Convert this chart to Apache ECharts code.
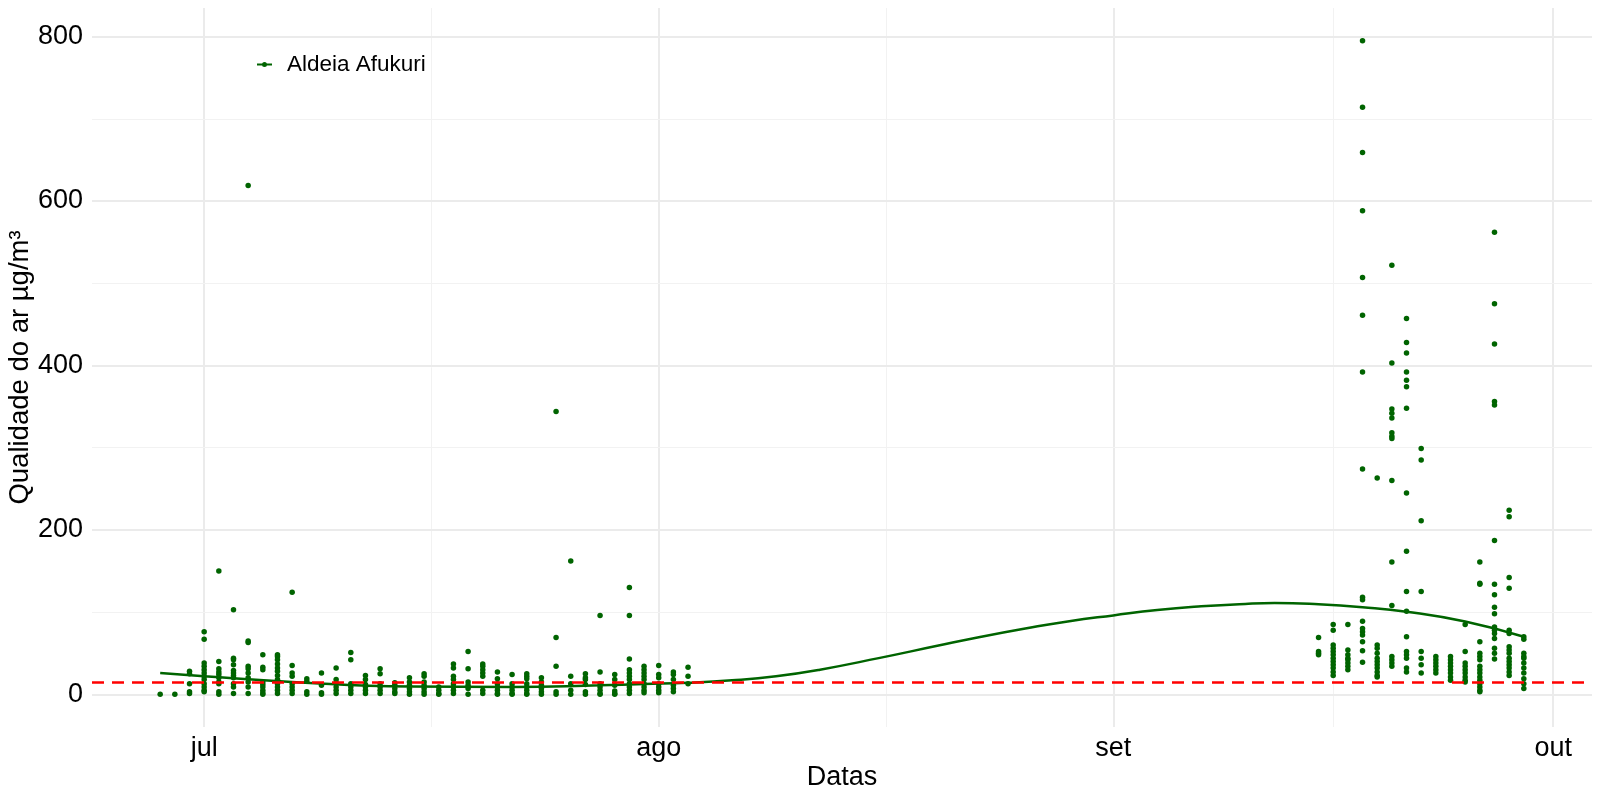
<!DOCTYPE html>
<html><head><meta charset="utf-8">
<script src="https://cdn.jsdelivr.net/npm/echarts@6/dist/echarts.min.js"></script>
<style>html,body{margin:0;padding:0;background:#fff}#c{width:1600px;height:800px}</style>
</head><body><div id="c"></div>
<script>
// ---- data ----
const seriesName = 'Aldeia Afukuri';
const dayDates = [
  '2024-06-28','2024-06-29','2024-06-30','2024-07-01','2024-07-02','2024-07-03','2024-07-04','2024-07-05',
  '2024-07-06','2024-07-07','2024-07-08','2024-07-09','2024-07-10','2024-07-11','2024-07-12','2024-07-13',
  '2024-07-14','2024-07-15','2024-07-16','2024-07-17','2024-07-18','2024-07-19','2024-07-20','2024-07-21',
  '2024-07-22','2024-07-23','2024-07-24','2024-07-25','2024-07-26','2024-07-27','2024-07-28','2024-07-29',
  '2024-07-30','2024-07-31','2024-08-01','2024-08-02','2024-08-03',
  '2024-09-15','2024-09-16','2024-09-17','2024-09-18','2024-09-19','2024-09-20','2024-09-21','2024-09-22',
  '2024-09-23','2024-09-24','2024-09-25','2024-09-26','2024-09-27','2024-09-28','2024-09-29'
];
const dayReadings = [
  [0],
  [0],
  [28, 25, 13, 3, 1],
  [76, 67, 38, 34, 30, 26, 22, 18, 13, 9, 5, 3],
  [150, 40, 31, 27, 24, 20, 15, 13, 3, 0],
  [103, 44, 42, 36, 29, 26, 23, 20, 13, 9, 1],
  [619, 65, 63, 34, 31, 26, 20, 15, 9, 1],
  [48, 33, 30, 15, 12, 9, 5, 2, 0],
  [48, 46, 42, 37, 32, 28, 23, 18, 13, 9, 5, 1],
  [124, 35, 26, 22, 13, 9, 5, 1],
  [19, 16, 3, 0],
  [26, 11, 2, 0],
  [32, 18, 14, 9, 5, 1],
  [51, 42, 13, 9, 5, 1],
  [23, 18, 12, 9, 5, 1],
  [31, 25, 13, 9, 5, 1],
  [14, 11, 7, 3, 1],
  [20, 15, 11, 7, 3, 0],
  [25, 22, 15, 11, 7, 3, 0],
  [9, 5, 1, 0],
  [37, 32, 22, 18, 13, 9, 5, 1],
  [52, 31, 15, 11, 7, 0],
  [37, 34, 30, 26, 22, 5, 1],
  [27, 19, 13, 9, 5, 1, 0],
  [24, 13, 9, 5, 1, 0],
  [25, 22, 19, 13, 9, 5, 1, 0],
  [20, 15, 11, 7, 3, 0],
  [344, 69, 34, 3, 0],
  [162, 22, 13, 5, 0],
  [25, 20, 18, 12, 3, 0],
  [96, 27, 13, 9, 5, 1, 0],
  [24, 18, 11, 4, 1, 0],
  [130, 96, 43, 30, 26, 22, 18, 13, 9, 5, 1],
  [34, 30, 26, 22, 18, 13, 9, 5, 2],
  [35, 24, 20, 13, 9, 5, 2],
  [27, 24, 18, 11, 7, 3],
  [33, 22, 13],
  [69, 52, 50, 48],
  [85, 78, 60, 56, 52, 48, 44, 40, 36, 32, 27, 23],
  [85, 54, 48, 44, 42, 38, 34, 30],
  [795, 714, 659, 588, 507, 461, 392, 274, 118, 115, 89, 80, 76, 72, 64, 53, 39],
  [263, 60, 56, 50, 44, 40, 36, 32, 27, 23, 21],
  [522, 403, 347, 342, 336, 318, 314, 311, 260, 161, 108, 46, 42, 38, 34],
  [457, 428, 415, 392, 382, 374, 348, 245, 174, 125, 101, 70, 52, 48, 44, 32, 27],
  [299, 285, 211, 125, 52, 44, 36, 26],
  [46, 42, 38, 34, 30, 26],
  [46, 42, 38, 34, 30, 26, 21, 17],
  [85, 52, 38, 34, 30, 26, 21, 17, 15],
  [161, 135, 134, 64, 50, 46, 42, 34, 30, 26, 21, 17, 13, 9, 5, 3],
  [562, 475, 426, 356, 352, 187, 134, 121, 106, 98, 82, 78, 74, 68, 56, 50, 43],
  [224, 216, 142, 129, 78, 74, 58, 54, 50, 44, 40, 36, 32, 27, 23],
  [70, 67, 50, 46, 44, 38, 32, 26, 19, 13, 7]
];
// fitted smooth curve
const smoothDates = [
  '2024-06-28','2024-07-01','2024-07-07','2024-07-15','2024-07-22','2024-07-28','2024-07-31','2024-08-03',
  '2024-08-06','2024-08-09','2024-08-12','2024-08-16','2024-08-20','2024-08-23','2024-08-26','2024-08-29',
  '2024-09-01','2024-09-04','2024-09-07','2024-09-10','2024-09-12','2024-09-15','2024-09-18','2024-09-21',
  '2024-09-25','2024-09-29'
];
const smoothValues = [
  26, 22, 15, 9.5, 9, 11, 12.5, 14,
  17, 22, 30, 44, 59, 70, 80, 89,
  96, 102.5, 107, 110, 111, 109.5, 106, 100.5,
  88.5, 70
];
const referenceLevel = 15;
const monthTickDates = ['2024-07-01','2024-08-01','2024-09-01','2024-10-01'];
const monthTickLabels = ['jul','ago','set','out'];
const minorXDates = ['2024-07-16 12','2024-08-16 12','2024-09-16 00'];
const yMajorTicks = [0, 200, 400, 600, 800];
const yMinorTicks = [100, 300, 500, 700];

// ---- helpers ----
function ts(s) {
  const parts = s.split(' ');
  const [Y, M, D] = parts[0].split('-').map(Number);
  const h = parts[1] ? Number(parts[1]) : 0;
  return new Date(Y, M - 1, D, h).getTime();
}
const points = [];
dayDates.forEach((d, i) => dayReadings[i].forEach(v => points.push([ts(d), v])));
const xs = points.map(p => p[0]), ys = points.map(p => p[1]);
const xMinD = Math.min(...xs), xMaxD = Math.max(...xs);
const yMinD = Math.min(...ys), yMaxD = Math.max(...ys);
const xPad = (xMaxD - xMinD) * 0.05, yPad = (yMaxD - yMinD) * 0.05;
const tickTs = monthTickDates.map(ts);

const gridMajor = { color: '#ebebeb', width: 2, type: 'solid' };
const gridMinor = { color: '#f2f2f2', width: 1, type: 'solid' };
const gridLines = [
  ...tickTs.map(t => ({ xAxis: t, lineStyle: gridMajor })),
  ...minorXDates.map(d => ({ xAxis: ts(d), lineStyle: gridMinor })),
  ...yMajorTicks.map(v => ({ yAxis: v, lineStyle: gridMajor })),
  ...yMinorTicks.map(v => ({ yAxis: v, lineStyle: gridMinor }))
];

const FONT = '"Liberation Sans", Arial, Helvetica, sans-serif';
const chart = echarts.init(document.getElementById('c'), null, { renderer: 'canvas' });
chart.setOption({
  animation: false,
  backgroundColor: '#ffffff',
  textStyle: { fontFamily: FONT },
  grid: { left: 92, right: 8, top: 8, bottom: 73, containLabel: false, outerBoundsMode: 'none' },
  legend: {
    left: 252, top: 48, itemWidth: 15, itemHeight: 5, selectedMode: false,
    textStyle: { fontSize: 22.5, color: '#000', fontFamily: FONT, padding: [0, 0, 0, 10] },
    data: [{ name: seriesName,
      icon: 'path://M0,1.6H15V3.4H0Z M5,2.5A2.5,2.5 0 1,1 10,2.5A2.5,2.5 0 1,1 5,2.5Z',
      itemStyle: { color: '#006400' } }]
  },
  xAxis: {
    type: 'value', min: xMinD - xPad, max: xMaxD + xPad, scale: true,
    axisLine: { show: false }, axisTick: { show: false }, splitLine: { show: false },
    axisLabel: {
      customValues: tickTs, fontSize: 27, color: '#000', margin: 8, fontFamily: FONT,
      showMinLabel: true, showMaxLabel: true,
      formatter: function (v) {
        let best = 0;
        tickTs.forEach((t, i) => { if (Math.abs(t - v) < Math.abs(tickTs[best] - v)) best = i; });
        return monthTickLabels[best];
      }
    },
    name: 'Datas', nameLocation: 'middle', nameGap: 37, nameMoveOverlap: false,
    nameTextStyle: { fontSize: 27, color: '#000', fontFamily: FONT }
  },
  yAxis: {
    type: 'value', min: yMinD - yPad, max: yMaxD + yPad,
    axisLine: { show: false }, axisTick: { show: false }, splitLine: { show: false },
    axisLabel: { customValues: yMajorTicks, fontSize: 27, color: '#000', margin: 9, fontFamily: FONT },
    name: 'Qualidade do ar µg/m³', nameLocation: 'middle', nameGap: 58, nameMoveOverlap: false,
    nameTextStyle: { fontSize: 27.5, color: '#000', fontFamily: FONT }
  },
  series: [
    {
      name: 'grid', type: 'line', data: [], silent: true, z: 0,
      markLine: { silent: true, z: 0, symbol: ['none', 'none'], label: { show: false },
        emphasis: { disabled: true }, animation: false, data: gridLines }
    },
    {
      name: seriesName, type: 'scatter', data: points, symbolSize: 5.5, z: 2,
      itemStyle: { color: '#006400', opacity: 1 }, silent: true
    },
    {
      name: seriesName, type: 'line', data: smoothDates.map((d, i) => [ts(d), smoothValues[i]]),
      smooth: 0.5, showSymbol: false, symbol: 'none', z: 3, silent: true,
      lineStyle: { color: '#006400', width: 2.5 }, itemStyle: { color: '#006400' },
      markLine: { silent: true, z: 6, symbol: ['none', 'none'], label: { show: false },
        emphasis: { disabled: true }, animation: false,
        lineStyle: { color: '#ff0000', width: 2.5, type: [12, 8] },
        data: [{ yAxis: referenceLevel }] }
    }
  ]
});
</script></body></html>
